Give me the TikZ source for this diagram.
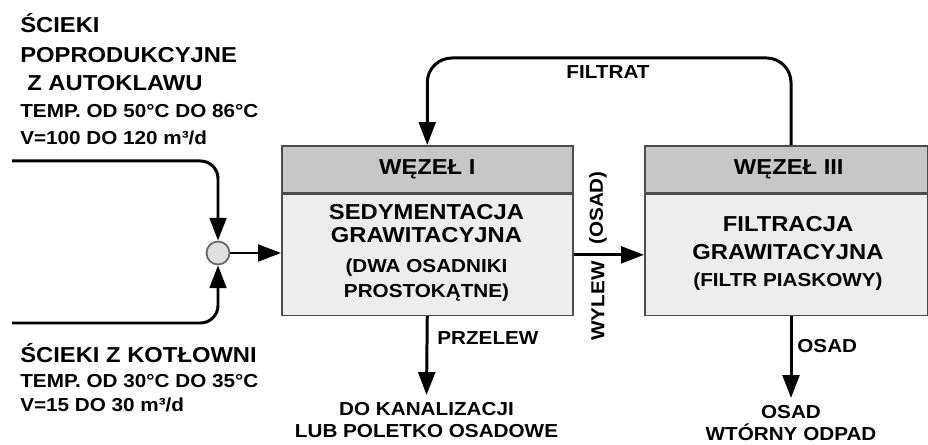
\documentclass[tikz,border=0pt]{standalone}
\usepackage{fontspec}
\setmainfont{Liberation Sans}[FakeStretch=1.1]
\usetikzlibrary{arrows.meta, positioning, calc}

\newcommand{\txtbig}{\fontsize{12.3}{14.6}\selectfont\bfseries}
\newcommand{\txtsmall}{\fontsize{10.7}{12.5}\selectfont\bfseries}

\tikzset{
    bigtxt/.style={font=\txtbig, inner sep=0pt},
    smalltxt/.style={font=\txtsmall, inner sep=0pt},
    hdrbox/.style={draw=black!70, line width=0.9pt, fill=black!22, minimum height=0.94cm, inner sep=0pt, font=\txtbig},
    bodybox/.style={draw=black!70, line width=0.9pt, fill=black!7, minimum height=2.42cm, inner sep=0pt},
    junc/.style={circle, draw=black!60, line width=1pt, fill=black!12, minimum size=0.46cm, inner sep=0pt},
    flow/.style={line width=1.7pt, -{Triangle[length=13pt,width=9.5pt]}}
}

\begin{document}
\begin{tikzpicture}[x=0.02cm, y=0.02cm]
    \useasboundingbox (0,0) rectangle (928,445);

    % Wezly
    \node[hdrbox, minimum width=5.82cm, anchor=north west] (hdrI) at (281,300) {WĘZEŁ I};
    \node[bodybox, minimum width=5.82cm, anchor=north] (bodyI) at (hdrI.south) {};
    \node[hdrbox, minimum width=5.66cm, anchor=north west] (hdrIII) at (644,300) {\hspace{0.1cm}WĘZEŁ III};
    \node[bodybox, minimum width=5.66cm, anchor=north] (bodyIII) at (hdrIII.south) {};

    \node[bigtxt, anchor=base] (sedI1) at (426.5,225) {SEDYMENTACJA};
    \node[bigtxt, anchor=base] (sedI2) at (426.5,202) {GRAWITACYJNA};
    \node[smalltxt, anchor=base] (sedI3) at (426.5,172) {(DWA OSADNIKI};
    \node[smalltxt, anchor=base] (sedI4) at (426.5,147) {PROSTOKĄTNE)};

    \node[bigtxt, anchor=base] (filIII1) at (788,213) {FILTRACJA};
    \node[bigtxt, anchor=base] (filIII2) at (788,185) {GRAWITACYJNA};
    \node[smalltxt, anchor=base] (filIII3) at (788,158) {(FILTR PIASKOWY)};

    % Doplywy
    \node[bigtxt, anchor=base west] (srcA1) at (20,412) {ŚCIEKI};
    \node[bigtxt, anchor=base west] (srcA2) at (20,382) {POPRODUKCYJNE};
    \node[bigtxt, anchor=base west] (srcA3) at (27,354) {Z AUTOKLAWU};
    \node[smalltxt, anchor=base west] (srcA4) at (20,327) {TEMP. OD 50°C DO 86°C};
    \node[smalltxt, anchor=base west] (srcA5) at (20,300) {V=100 DO 120 m³/d};

    \node[bigtxt, anchor=base west] (srcB1) at (20,82) {ŚCIEKI Z KOTŁOWNI};
    \node[smalltxt, anchor=base west] (srcB2) at (20,57) {TEMP. OD 30°C DO 35°C};
    \node[smalltxt, anchor=base west] (srcB3) at (20,33) {V=15 DO 30 m³/d};

    \coordinate (inA) at (12,284);
    \coordinate (inB) at (12,122);
    \node[junc] (jn) at (218,192) {};

    \draw[flow, rounded corners=10pt] (inA) -| (jn.north);
    \draw[flow, rounded corners=10pt] (inB) -| (jn.south);
    \draw[flow] (jn.east) -- (jn.east -| bodyI.west);

    % Wylew (osad)
    \draw[flow] (bodyI.east) -- (bodyIII.west);
    \node[smalltxt, rotate=90] (lblOsadA) at (598,237) {(OSAD)};
    \node[smalltxt, rotate=90] (lblWylew) at (598,144) {WYLEW};

    % Filtrat
    \coordinate (ftop) at (791,387);
    \draw[flow, rounded corners=14pt] (hdrIII.north -| ftop) -- (ftop) -| (hdrI.north);
    \node[smalltxt, anchor=base] (lblFiltrat) at (608,366) {FILTRAT};

    % Odplywy
    \node[smalltxt, align=center, anchor=north, inner sep=4pt] (kan) at (426.5,50) {DO KANALIZACJI\\LUB POLETKO OSADOWE};
    \draw[flow] (bodyI.south) -- (kan.north);
    \node[smalltxt, anchor=base west] (lblPrzelew) at (437,100) {PRZELEW};

    \node[smalltxt, align=center, anchor=north, inner sep=4pt] (odpad) at (791,47) {OSAD\\WTÓRNY ODPAD};
    \draw[flow] (bodyIII.south -| odpad.north) -- (odpad.north);
    \node[smalltxt, anchor=base west] (lblOsad) at (797,92) {OSAD};
\end{tikzpicture}
\end{document}
